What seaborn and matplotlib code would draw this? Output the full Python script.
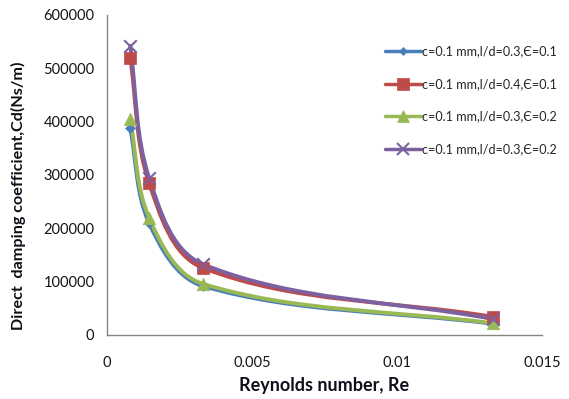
import numpy as np
import pandas as pd
import matplotlib
matplotlib.use("Agg")
import matplotlib.pyplot as plt
from matplotlib.path import Path
from matplotlib.patches import PathPatch
from matplotlib.lines import Line2D
import seaborn as sns

# -----------------------------
# DATA
# -----------------------------
reynolds = [0.0008, 0.00145, 0.0033, 0.0133]
cd_l03_e01 = [388000, 210000, 92000, 21000]
cd_l04_e01 = [520000, 285000, 126000, 34000]
cd_l03_e02 = [405000, 220000, 96000, 22000]
cd_l03_e02b = [542000, 295000, 133000, 30000]

labels = ["c=0.1 mm,l/d=0.3,Є=0.1",
          "c=0.1 mm,l/d=0.4,Є=0.1",
          "c=0.1 mm,l/d=0.3,Є=0.2",
          "c=0.1 mm,l/d=0.3,Є=0.2 "]
series = [cd_l03_e01, cd_l04_e01, cd_l03_e02, cd_l03_e02b]

colors = ["#4A7EBB", "#BE4B48", "#98B954", "#7D60A0"]
markers = ["D", "s", "^", "x"]
msizes = [5, 9, 9, 9]

df = pd.concat([pd.DataFrame({"Re": reynolds, "Cd": s, "case": lab})
                for s, lab in zip(series, labels)], ignore_index=True)

sns.set_style("white")
plt.rcParams["font.family"] = ["Lato", "DejaVu Sans"]

fig = plt.figure(figsize=(5.69, 3.99), dpi=100)
ax = fig.add_axes([107 / 569, 64 / 399, 435 / 569, 320 / 399])

XMAX, YMAX = 0.015, 600000
SX, SY = 435.0, 320.0   # axes size in pixels, so smoothing is done on screen


def smooth_path(xs, ys):
    # Excel-like smoothed line, cubic Bezier with chord-length tangents
    p = np.column_stack([np.array(xs) / XMAX * SX, np.array(ys) / YMAX * SY])
    n = len(p)
    dirs = []
    for i in range(n):
        a = p[max(i - 1, 0)]
        b = p[min(i + 1, n - 1)]
        d = b - a
        dirs.append(d / np.hypot(*d))
    verts = [p[0]]
    codes = [Path.MOVETO]
    for i in range(n - 1):
        L = np.hypot(*(p[i + 1] - p[i]))
        c1 = p[i] + dirs[i] * L / 3
        c2 = p[i + 1] - dirs[i + 1] * L / 3
        verts += [c1, c2, p[i + 1]]
        codes += [Path.CURVE4] * 3
    verts = np.array(verts) / [SX, SY] * [XMAX, YMAX]
    return Path(verts, codes)


for lab, col in zip(labels, colors):
    sub = df[df["case"] == lab]
    ax.add_patch(PathPatch(smooth_path(sub["Re"], sub["Cd"]), fill=False,
                           edgecolor=col, lw=2.8, capstyle="round", zorder=2))

for lab, col, m, ms in zip(labels, colors, markers, msizes):
    sub = df[df["case"] == lab]
    sns.scatterplot(data=sub, x="Re", y="Cd", ax=ax, color=col, marker=m,
                    s=ms ** 2, edgecolor=col if m != "x" else None,
                    linewidth=1.5 if m == "x" else 0.5, zorder=3, legend=False)

ax.set_xlim(0, XMAX)
ax.set_ylim(0, YMAX)
ax.set_xticks([0, 0.005, 0.01, 0.015])
ax.set_xticklabels(["0", "0.005", "0.01", "0.015"])
ax.set_yticks(np.arange(0, 600001, 100000))
ax.set_yticklabels([str(v) for v in range(0, 600001, 100000)])

for s in ["top", "right"]:
    ax.spines[s].set_visible(False)
for s in ["left", "bottom"]:
    ax.spines[s].set_color("#868686")
    ax.spines[s].set_linewidth(1)
ax.tick_params(axis="both", direction="out", length=5, width=1,
               color="#868686", labelsize=10.5, labelcolor="#141414")
ax.tick_params(axis="x", pad=10)
ax.tick_params(axis="y", pad=4)

ax.set_xlabel("Reynolds number, Re", fontsize=13, fontweight="bold",
              color="#0f0f1a", va="center")
ax.xaxis.set_label_coords(0.5, (335 - 386) / 320)
ax.set_ylabel("Direct  damping coefficient,Cd(Ns/m)", fontsize=11.6,
              fontweight="bold", color="#0f0f1a", va="center")
ax.yaxis.set_label_coords((18 - 107) / 435, (335 - 196) / 320)

handles = [Line2D([0], [0], color=c, lw=2.5, marker=m, markersize=ms * 0.9,
                  markeredgewidth=1.5 if m == "x" else 0.5)
           for c, m, ms in zip(colors, markers, msizes)]
ax.legend(handles, [l.strip() for l in labels], loc="upper left",
          bbox_to_anchor=(0.628, 0.92), frameon=False, fontsize=9.1,
          handlelength=2.8, handletextpad=0.12, labelspacing=1.62,
          borderaxespad=0)

fig.savefig("out.png", dpi=100)
